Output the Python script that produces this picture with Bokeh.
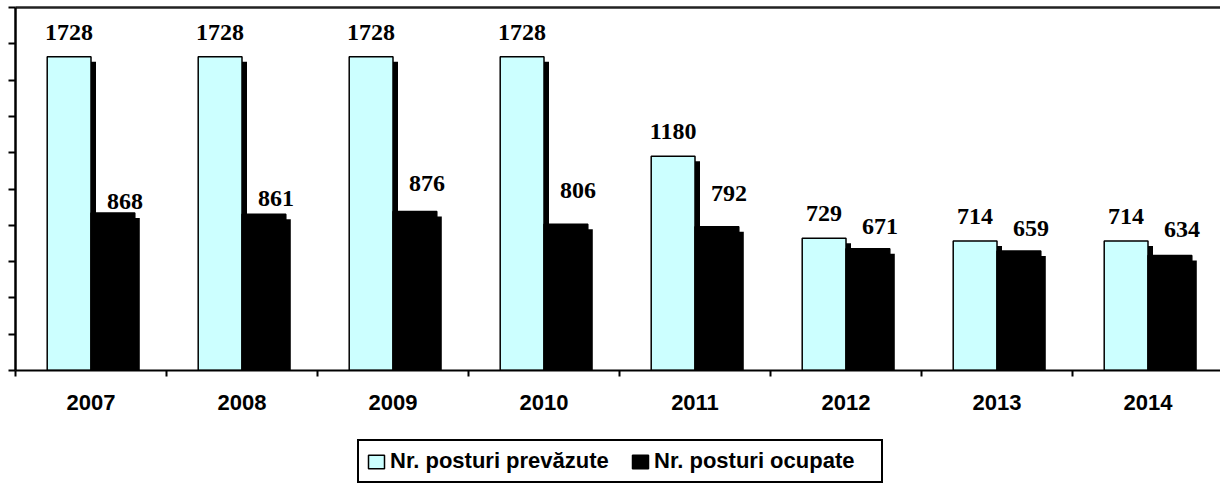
from bokeh.plotting import figure
from bokeh.layouts import column
from bokeh.models import (ColumnDataSource, Range1d, LinearAxis, FixedTicker, Legend,
                          LegendItem, LabelSet, CustomJSTickFormatter)
from bokeh.embed import file_html
from bokeh.resources import INLINE

# ---- data ----
years = ["2007", "2008", "2009", "2010", "2011", "2012", "2013", "2014"]
posturi_prevazute = [1728, 1728, 1728, 1728, 1180, 729, 714, 714]
posturi_ocupate = [868, 861, 876, 806, 792, 671, 659, 634]
y_ticks = [0, 200, 400, 600, 800, 1000, 1200, 1400, 1600, 1800, 2000]
series_names = ["Nr. posturi prevăzute", "Nr. posturi ocupate"]

# ---- style ----
ocupate_label_gap = [4, 8, 21, 26, 26, 15, 15, 18]  # px above bar top
CAT_PX = 151
FRAME_W = 1205
FRAME_H = 363
TOP_PX = 7
LEFT_PX = 15
BOTTOM_PX = 60
LEG_FIG_H = 54
Y_MAX = 2000
BAR_W = 0.29
SHADOW_PX = 5
CYAN = "#CCFFFF"

n = len(years)
centers = [i + 0.5 for i in range(n)]
sx = SHADOW_PX / CAT_PX
sy = SHADOW_PX * Y_MAX / FRAME_H

src = ColumnDataSource(dict(
    x_prev=[c - BAR_W / 2 for c in centers],
    x_ocu=[c + BAR_W / 2 for c in centers],
    x_prev_sh=[c - BAR_W / 2 + sx for c in centers],
    x_ocu_sh=[c + BAR_W / 2 + sx for c in centers],
    prev=posturi_prevazute,
    ocu=posturi_ocupate,
    prev_sh=[v - sy for v in posturi_prevazute],
    ocu_sh=[v - sy for v in posturi_ocupate],
    prev_txt=[str(v) for v in posturi_prevazute],
    ocu_txt=[str(v) for v in posturi_ocupate],
    ocu_gap=ocupate_label_gap,
))

p = figure(frame_width=FRAME_W, frame_height=FRAME_H,
           x_range=Range1d(0, FRAME_W / CAT_PX), y_range=Range1d(0, Y_MAX),
           output_backend="svg", toolbar_location=None,
           min_border=0, min_border_left=LEFT_PX, min_border_right=0,
           min_border_top=TOP_PX, min_border_bottom=BOTTOM_PX)
p.outline_line_color = None
p.xgrid.visible = False
p.ygrid.visible = False
p.background_fill_color = "white"
p.border_fill_color = "white"

# shadows
p.vbar(x="x_prev_sh", top="prev_sh", bottom=0, width=BAR_W, source=src,
       fill_color="black", line_color=None)
p.vbar(x="x_ocu_sh", top="ocu_sh", bottom=0, width=BAR_W, source=src,
       fill_color="black", line_color=None)
# bars
p.vbar(x="x_prev", top="prev", bottom=0, width=BAR_W, source=src,
       fill_color=CYAN, line_color="black", line_width=1.5)
p.vbar(x="x_ocu", top="ocu", bottom=0, width=BAR_W, source=src,
       fill_color="black", line_color="black", line_width=1.5)

# value labels
lab_prev = LabelSet(x="x_prev", y="prev", text="prev_txt", source=src,
                    y_offset=17, text_align="center", text_baseline="alphabetic",
                    text_font="Liberation Serif", text_font_style="bold",
                    text_font_size="24px", text_color="black")
lab_ocu = LabelSet(x="x_ocu", y="ocu", text="ocu_txt", source=src,
                   x_offset=12, y_offset="ocu_gap", text_align="center",
                   text_baseline="alphabetic",
                   text_font="Liberation Serif", text_font_style="bold",
                   text_font_size="24px", text_color="black")
p.add_layout(lab_prev)
p.add_layout(lab_ocu)

# x axis
xa = p.xaxis[0]
xa.ticker = FixedTicker(ticks=centers, minor_ticks=list(range(n + 1)))
xa.formatter = CustomJSTickFormatter(args=dict(labels=years),
                                     code="return labels[Math.floor(tick)] || '';")
xa.major_tick_out = 0
xa.major_tick_in = 0
xa.minor_tick_out = 6
xa.minor_tick_in = 0
xa.minor_tick_line_width = 2
xa.minor_tick_line_color = "black"
xa.axis_line_width = 2
xa.axis_line_color = "black"
xa.major_label_standoff = 18
xa.major_label_text_font = "Liberation Sans"
xa.major_label_text_font_style = "bold"
xa.major_label_text_font_size = "22px"
xa.major_label_text_color = "black"

# y axis (ticks only, no labels)
ya = p.yaxis[0]
ya.ticker = FixedTicker(ticks=y_ticks)
ya.formatter = CustomJSTickFormatter(code="return '';")
ya.major_label_text_color = None
ya.major_label_text_font_size = "1px"
ya.major_label_standoff = 0
ya.major_tick_out = 7
ya.major_tick_in = 0
ya.minor_tick_out = 0
ya.minor_tick_in = 0
ya.major_tick_line_width = 2
ya.major_tick_line_color = "black"
ya.axis_line_width = 2.5
ya.axis_line_color = "black"

# top border line
top = LinearAxis(ticker=FixedTicker(ticks=[]), major_tick_out=0, major_tick_in=0,
                 minor_tick_out=0, minor_tick_in=0, major_label_text_font_size="1px",
                 major_label_text_color=None, major_label_standoff=0,
                 axis_line_width=2.5, axis_line_color="#222222")
p.add_layout(top, "above")

# ---- legend strip (separate figure below the chart) ----
pl = figure(frame_width=LEFT_PX + FRAME_W, frame_height=LEG_FIG_H,
            x_range=Range1d(0, 1), y_range=Range1d(0, 1),
            output_backend="svg", toolbar_location=None,
            x_axis_location=None, y_axis_location=None, min_border=0)
pl.outline_line_color = None
pl.xgrid.visible = False
pl.ygrid.visible = False
# off-screen sample bars, used only to give the legend its swatches
swatch = ColumnDataSource(dict(x=[5], top=[1]))
lr_prev = pl.vbar(x="x", top="top", width=0.1, source=swatch,
                  fill_color=CYAN, line_color="black", line_width=1.5)
lr_ocu = pl.vbar(x="x", top="top", width=0.1, source=swatch,
                 fill_color="black", line_color="black", line_width=1.5)
legend = Legend(items=[LegendItem(label=series_names[0], renderers=[lr_prev], index=0),
                       LegendItem(label=series_names[1], renderers=[lr_ocu], index=0)],
                orientation="horizontal", location=(357, 1),
                label_text_font="Liberation Sans", label_text_font_style="bold",
                label_text_font_size="22px", label_text_color="black",
                glyph_width=20, glyph_height=17, label_standoff=4, spacing=20,
                label_width=220, padding=7, margin=0,
                border_line_color="black", border_line_width=2, border_line_alpha=1,
                background_fill_color="white", background_fill_alpha=1)
pl.add_layout(legend, "center")

layout = column(p, pl, spacing=0)
open("out.html", "w").write(file_html(layout, INLINE))
